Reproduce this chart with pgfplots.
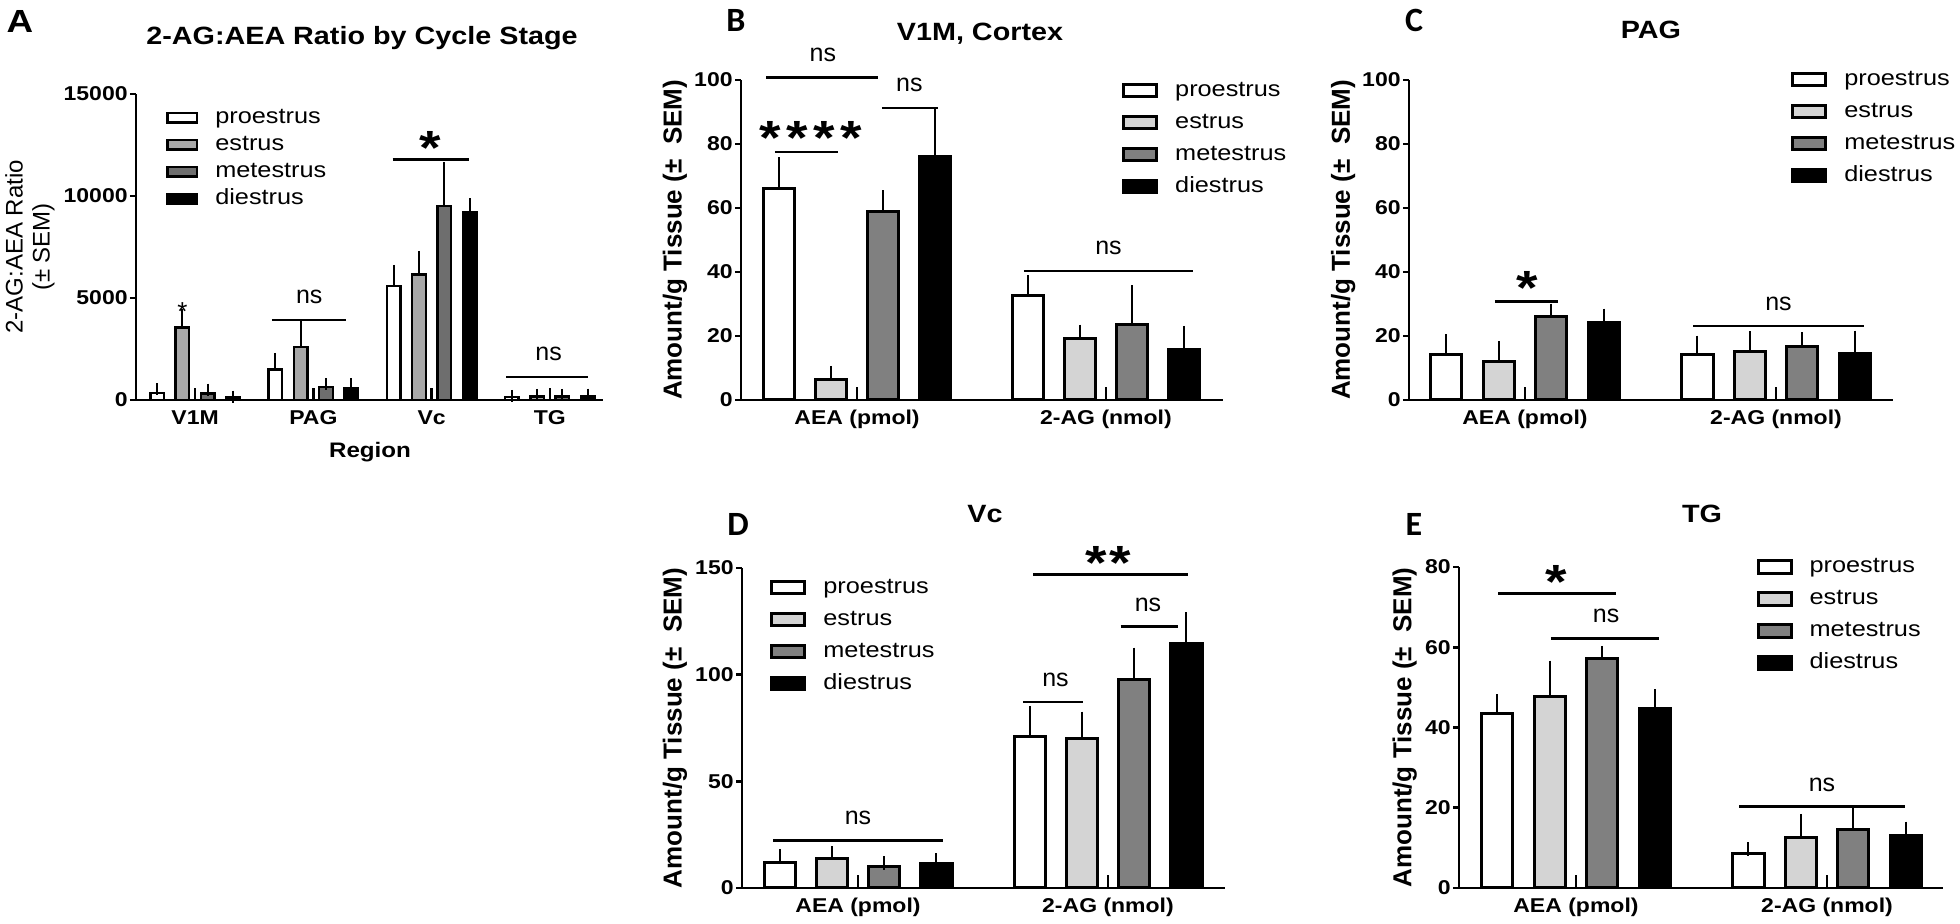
\documentclass[border=0pt]{standalone}
\usepackage{pgfplots}
\pgfplotsset{compat=1.18}
\usepackage{pgfplotstable}
\usepackage{fontspec}
\setmainfont{Liberation Sans}[FakeStretch=1.15]
\newfontfamily\plainsans{Liberation Sans}
\newfontfamily\letterfont{Carlito}

\definecolor{estA}{HTML}{A8A8A8}
\definecolor{metA}{HTML}{6E6E6E}
\definecolor{est}{HTML}{D4D4D4}
\definecolor{met}{HTML}{808080}

\newcommand\tickfont{\bfseries\fontsize{10}{12}\selectfont}
\newcommand\legfont{\fontsize{11}{13}\selectfont}
\newcommand\ttlfont{\bfseries\fontsize{12.5}{14}\selectfont}
\newcommand\nsfont{\plainsans\fontsize{12.5}{14}\selectfont}
\newcommand\starfont{\bfseries\fontsize{24}{26}\selectfont}
\newcommand\ylabfont{\plainsans\bfseries\fontsize{13}{15}\selectfont}
\newcommand\letfont{\letterfont\bfseries\fontsize{17}{19}\selectfont}

\pgfplotstableread{
x pro proe est este met mete die diee
0 340 180 3550 600 320 190 120 40
1 1500 520 2600 1000 650 110 570 210
2 5600 730 6150 870 9500 1850 9200 400
3 150 50 180 70 180 70 200 60
}\dataA
\pgfplotstableread{
x pro proe est este met mete die diee
0 66 7.7 6.3 2.2 59 4.3 76 12.7
1 32.5 4.3 19.3 2.1 23.6 10.1 15.8 5.2
}\dataB
\pgfplotstableread{
x pro proe est este met mete die diee
0 14.1 4.3 12.0 4.1 26.0 1.9 24.3 2.1
1 14.3 3.6 15.3 4.0 16.7 2.3 14.6 4.9
}\dataC
\pgfplotstableread{
x pro proe est este met mete die diee
0 12.0 2.8 13.6 2.8 10.2 1.5 11.4 1.6
1 71.1 11 70.3 9.1 97.7 11.7 114.5 11.5
}\dataD
\pgfplotstableread{
x pro proe est este met mete die diee
0 43.6 2.9 47.7 7.2 57.1 1.5 44.8 3.0
1 8.6 1.0 12.5 4.2 14.6 4.2 13.1 1.7
}\dataE

\pgfplotsset{
  panel/.style={
    scale only axis, clip=false, ybar, enlargelimits=false, ymin=0,
    axis x line*=bottom, axis y line*=left,
    axis line style={line width=1.4pt, -},
    tick align=outside, major tick length=3pt,
    ytick style={line width=1.4pt, black},
    xtick style={draw=none},
    tick label style={font=\tickfont, black},
    yticklabel style={inner sep=1pt},
    xticklabel style={inner sep=2pt},
    scaled y ticks=false,
    error bars/y dir=plus, error bars/y explicit,
    error bars/error bar style={line width=1pt, black},
    error bars/error mark options={line width=1pt, mark size=3.5pt, black},
    legend style={draw=none, fill=none, inner sep=0pt, font=\legfont, row sep=4.5pt, anchor=north west,
       nodes={inner sep=0.5pt, text height=8pt, text depth=2.5pt},
       /tikz/every odd column/.append style={column sep=8pt}},
    legend cell align=left,
  },
  panelBE/.style={panel, bar width=0.125, xtick={0,1}, xticklabels={AEA (pmol),2-AG (nmol)},
    ylabel={Amount/g Tissue (±\ \ SEM)}},
  bbox/.style={legend image code/.code={\draw[##1, line width=1.5pt] (0pt,-3pt) rectangle (16.5pt,3.2pt);}},
  bboxA/.style={legend image code/.code={\draw[##1, line width=1.2pt] (0pt,-2.4pt) rectangle (14.8pt,2.4pt);}},
}

\newcommand\ns[2]{\node[anchor=base,yshift=-3.3pt,inner sep=0pt,font=\nsfont] at (axis cs:#1,#2) {ns};}
\newcommand\sline[3]{\draw[line width=1.4pt] (axis cs:#1,#3) -- (axis cs:#2,#3);}
\newcommand\stars[3]{\node[anchor=base,yshift=-14pt,inner sep=0pt,font=\starfont] at (axis cs:#1,#2) {#3};}
\newcommand\ctick[1]{\draw[line width=1.4pt] (axis cs:#1,0) -- ++(0pt,6.5pt);}

\newcommand\fourbars[1]{%
  \addplot[fill=white, draw=black, line width=1.5pt, bar shift=-0.3135, bbox] table[x=x, y=pro, y error=proe]{#1};
  \addplot[fill=est, draw=black, line width=1.5pt, bar shift=-0.1045, bbox] table[x=x, y=est, y error=este]{#1};
  \addplot[fill=met, draw=black, line width=1.5pt, bar shift=0.1045, bbox] table[x=x, y=met, y error=mete]{#1};
  \addplot[fill=black, draw=black, line width=1.5pt, bar shift=0.3135, bbox] table[x=x, y=die, y error=diee]{#1};
}

\begin{document}
\begin{tikzpicture}
\useasboundingbox (0,0) rectangle (980pt,462pt);

% ---------------- Panel A
\begin{axis}[panel, at={(68pt,262pt)}, anchor=south west, width=233.5pt, height=153pt,
  xmin=-0.5, xmax=3.45, ymax=15000, bar width=0.115,
  axis line style={line width=1.2pt},
  ytick style={line width=1.2pt, black},
  xtick={0,1,2,3}, xticklabels={V1M,PAG,Vc,TG},
  ytick={0,5000,10000,15000}, yticklabels={0,5000,10000,15000},
  ylabel={2-AG:AEA Ratio\\(± SEM)},
  ylabel style={font=\plainsans\fontsize{12}{13.5}\selectfont, align=center, at={(axis description cs:-0.227,0.5)}, anchor=center},
  error bars/error mark options={line width=1pt, mark size=3pt, black},
  legend style={at={(axis description cs:0.064,0.961)}, row sep=2pt}]
\addplot[fill=white, draw=black, line width=1.2pt, bar shift=-0.321, bboxA] table[x=x, y=pro, y error=proe]{\dataA};
\addplot[fill=estA, draw=black, line width=1.2pt, bar shift=-0.107, bboxA] table[x=x, y=est, y error=este]{\dataA};
\addplot[fill=metA, draw=black, line width=1.2pt, bar shift=0.107, bboxA] table[x=x, y=met, y error=mete]{\dataA};
\addplot[fill=black, draw=black, line width=1.2pt, bar shift=0.321, bboxA] table[x=x, y=die, y error=diee]{\dataA};
\legend{proestrus, estrus, metestrus, diestrus}
\draw[line width=1.2pt] (axis cs:0,0) -- ++(0pt,6pt);
\draw[line width=1.2pt] (axis cs:1,0) -- ++(0pt,6pt);
\draw[line width=1.2pt] (axis cs:2,0) -- ++(0pt,6pt);
\draw[line width=1.2pt] (axis cs:3,0) -- ++(0pt,6pt);
\node[anchor=base,yshift=-7pt,inner sep=0pt,font=\plainsans\fontsize{13}{14}\selectfont] at (axis cs:-0.107,4600) {*};
\sline{0.65}{1.28}{3920}
\ns{0.965}{5050}
\sline{1.67}{2.32}{11800}
\stars{1.99}{12900}{*}
\sline{2.63}{3.32}{1130}
\ns{2.99}{2250}
\end{axis}

% ---------------- Panel B
\begin{axis}[panelBE, at={(370.5pt,262pt)}, anchor=south west, width=241pt, height=160pt,
  xmin=-0.466, xmax=1.47, ymax=100,
  ytick={0,20,40,60,80,100}, yticklabels={0,20,40,60,80,100},
  ylabel style={font=\ylabfont, at={(axis description cs:-0.137,0.5)}, anchor=center},
  legend style={at={(axis description cs:0.79,1.003)}}]
\fourbars{\dataB}
\legend{proestrus, estrus, metestrus, diestrus}
\ctick{0}\ctick{1}
\sline{-0.365}{0.084}{100.7}
\ns{-0.137}{107.8}
\sline{-0.33}{-0.076}{77.5}
\stars{-0.185}{85.4}{*\kern2.7pt*\kern2.7pt*\kern2.7pt*}
\sline{0.10}{0.325}{91.25}
\ns{0.21}{98.4}
\sline{0.67}{1.35}{40.3}
\ns{1.01}{47.5}
\end{axis}

% ---------------- Panel C
\begin{axis}[panelBE, at={(704.5pt,262pt)}, anchor=south west, width=242pt, height=160pt,
  xmin=-0.462, xmax=1.466, ymax=100,
  ytick={0,20,40,60,80,100}, yticklabels={0,20,40,60,80,100},
  ylabel style={font=\ylabfont, at={(axis description cs:-0.136,0.5)}, anchor=center},
  legend style={at={(axis description cs:0.789,1.0375)}}]
\fourbars{\dataC}
\legend{proestrus, estrus, metestrus, diestrus}
\ctick{0}\ctick{1}
\sline{-0.12}{0.13}{30.7}
\stars{0.01}{38.5}{*}
\sline{0.67}{1.35}{23.1}
\ns{1.01}{30}
\end{axis}

% ---------------- Panel D
\begin{axis}[panelBE, at={(371pt,18pt)}, anchor=south west, width=241.5pt, height=160pt,
  xmin=-0.464, xmax=1.468, ymax=150,
  ytick={0,50,100,150}, yticklabels={0,50,100,150},
  ylabel style={font=\ylabfont, at={(axis description cs:-0.139,0.5)}, anchor=center},
  legend style={at={(axis description cs:0.058,0.975)}}]
\fourbars{\dataD}
\legend{proestrus, estrus, metestrus, diestrus}
\ctick{0}\ctick{1}
\sline{0.70}{1.32}{146.9}
\stars{1.0}{157.8}{*\kern1.2pt*}
\sline{1.05}{1.28}{122.7}
\ns{1.16}{132.5}
\sline{0.66}{0.90}{87.2}
\ns{0.79}{97.7}
\sline{-0.34}{0.34}{22.3}
\ns{0.0}{32.8}
\end{axis}

% ---------------- Panel E
\begin{axis}[panelBE, at={(729.5pt,18pt)}, anchor=south west, width=242pt, height=160.5pt,
  xmin=-0.466, xmax=1.462, ymax=80,
  ytick={0,20,40,60,80}, yticklabels={0,20,40,60,80},
  ylabel style={font=\ylabfont, at={(axis description cs:-0.112,0.5)}, anchor=center},
  legend style={at={(axis description cs:0.614,1.037)}}]
\fourbars{\dataE}
\legend{proestrus, estrus, metestrus, diestrus}
\ctick{0}\ctick{1}
\sline{-0.31}{0.16}{73.3}
\stars{-0.08}{79.2}{*}
\sline{-0.10}{0.33}{62.25}
\ns{0.12}{67.9}
\sline{0.65}{1.31}{20.25}
\ns{0.98}{25.8}
\end{axis}

% ---------------- titles and panel letters
\node[font=\ttlfont] at (181pt,443pt) {2-AG:AEA Ratio by Cycle Stage};
\node[font=\bfseries\fontsize{16}{18}\selectfont] at (10pt,451pt) {A};
\node[font=\bfseries\fontsize{10.5}{12}\selectfont] at (185pt,236pt) {Region};
\node[font=\ttlfont] at (490pt,445pt) {V1M, Cortex};
\node[font=\letfont] at (368pt,452pt) {B};
\node[font=\ttlfont] at (825.5pt,447pt) {PAG};
\node[font=\letfont] at (707pt,452pt) {C};
\node[font=\ttlfont] at (492.5pt,205pt) {Vc};
\node[font=\letfont] at (369pt,200pt) {D};
\node[font=\ttlfont] at (851pt,205pt) {TG};
\node[font=\letfont] at (707pt,200pt) {E};
\end{tikzpicture}
\end{document}
